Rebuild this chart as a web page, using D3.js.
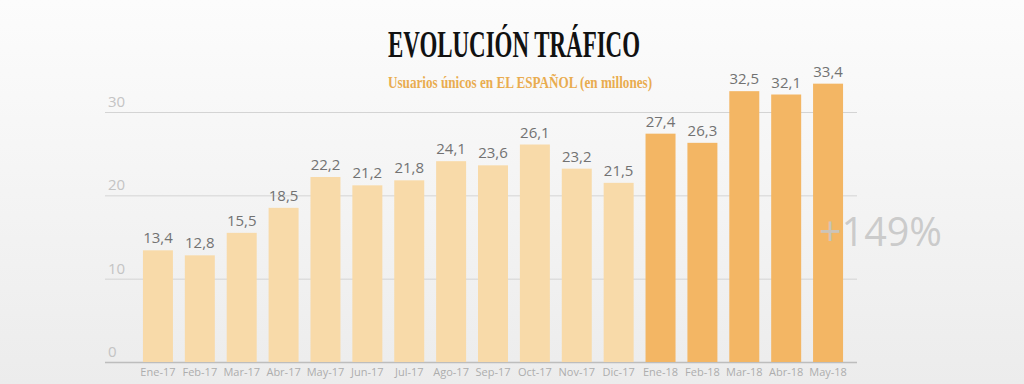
<!DOCTYPE html>
<html>
<head>
<meta charset="utf-8">
<script src="https://cdn.jsdelivr.net/npm/d3@7"></script>
<style>
  body { margin: 0; background: #f4f4f4; }
  svg { display: block; }
</style>
</head>
<body>
<svg id="chart" width="1024" height="384"></svg>
<script>
// data
var months = ["Ene-17","Feb-17","Mar-17","Abr-17","May-17","Jun-17","Jul-17","Ago-17","Sep-17","Oct-17","Nov-17","Dic-17",
              "Ene-18","Feb-18","Mar-18","Abr-18","May-18"];
var users = [13.4,12.8,15.5,18.5,22.2,21.2,21.8,24.1,23.6,26.1,23.2,21.5,27.4,26.3,32.5,32.1,33.4];
var years = ["2017","2017","2017","2017","2017","2017","2017","2017","2017","2017","2017","2017",
             "2018","2018","2018","2018","2018"];
var yTicks = [0,10,20,30];

var svg = d3.select("#chart");

// background gradient
var defs = svg.append("defs");
var grad = defs.append("linearGradient").attr("id","bg").attr("x1",0).attr("y1",0).attr("x2",0).attr("y2",1);
grad.append("stop").attr("offset","0%").attr("stop-color","#fcfcfc");
grad.append("stop").attr("offset","100%").attr("stop-color","#ececec");
svg.append("rect").attr("width",1024).attr("height",384).attr("fill","url(#bg)");

var x = d3.scaleBand().domain(months).range([137, 849]).paddingInner(0.284).paddingOuter(0.142);
var y = d3.scaleLinear().domain([0, 30]).range([362, 112]);

// gridlines + y labels
var grid = svg.append("g");
grid.selectAll("line").data(yTicks).enter().append("line")
  .attr("x1", 105).attr("x2", 857)
  .attr("y1", d => y(d) + 0.5).attr("y2", d => y(d) + 0.5)
  .attr("stroke", d => d == 0 ? "#bdbdbd" : "#d4d4d4")
  .attr("stroke-width", d => d == 0 ? 1.5 : 1);
grid.selectAll("text").data(yTicks).enter().append("text")
  .attr("x", 108).attr("y", d => y(d) - 5)
  .attr("font-family", "Open Sans, sans-serif").attr("font-size", 15)
  .attr("fill", "#c4c4c4")
  .text(d => d);

// bars
var data = months.map((m,i) => ({m: m, v: users[i], yr: years[i]}));
svg.append("g").selectAll("rect").data(data).enter().append("rect")
  .attr("x", d => x(d.m))
  .attr("y", d => y(d.v))
  .attr("width", x.bandwidth())
  .attr("height", d => y(0) - y(d.v))
  .attr("fill", d => d.yr == "2018" ? "#f3b664" : "#f8daa9");

// value labels
svg.append("g").selectAll("text").data(data).enter().append("text")
  .attr("x", d => x(d.m) + x.bandwidth()/2)
  .attr("y", d => y(d.v) - 7)
  .attr("text-anchor", "middle")
  .attr("font-family", "Open Sans, sans-serif").attr("font-size", 15)
  .attr("fill", "#727272")
  .text(d => String(d.v).replace(".", ","));

// x axis labels
var xAxis = svg.append("g").attr("transform", "translate(0,362)")
  .call(d3.axisBottom(x).tickSize(0).tickPadding(6));
xAxis.select(".domain").remove();
xAxis.selectAll("text")
  .attr("font-family", "Open Sans, sans-serif").attr("font-size", 11)
  .attr("fill", "#adadad");

// titles
svg.append("text").attr("x", 514).attr("y", 57).attr("text-anchor", "middle")
  .attr("font-family", "Liberation Serif, serif").attr("font-weight", "bold").attr("font-size", 37)
  .attr("textLength", 252).attr("lengthAdjust", "spacingAndGlyphs")
  .attr("fill", "#111")
  .text("EVOLUCIÓN TRÁFICO");
svg.append("text").attr("x", 520).attr("y", 88).attr("text-anchor", "middle")
  .attr("font-family", "Liberation Serif, serif").attr("font-weight", "bold").attr("font-size", 16)
  .attr("textLength", 264).attr("lengthAdjust", "spacingAndGlyphs")
  .attr("fill", "#e9ac4f")
  .text("Usuarios únicos en EL ESPAÑOL (en millones)");

// growth annotation
svg.append("text").attr("x", 819).attr("y", 246)
  .attr("font-family", "Open Sans, sans-serif").attr("font-size", 41)
  .attr("textLength", 123).attr("lengthAdjust", "spacingAndGlyphs")
  .attr("fill", "#c6c6c6").attr("fill-opacity", 0.9)
  .text("+149%");
</script>
</body>
</html>
